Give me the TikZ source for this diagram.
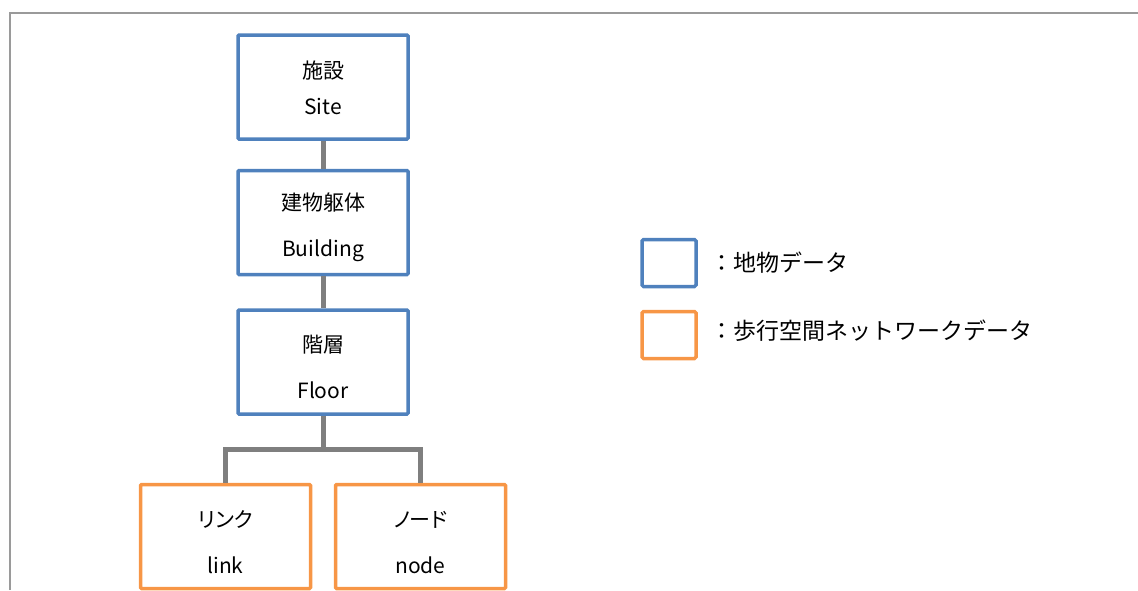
\documentclass[tikz,border=0pt]{standalone}
\usepackage{fontspec}
\setmainfont{Noto Sans CJK JP}
\newfontfamily\palfont[RawFeature=+palt]{Noto Sans CJK JP}
\usetikzlibrary{positioning}
\definecolor{geoblue}{HTML}{4F81BD}
\definecolor{netorange}{HTML}{F79646}
\definecolor{linkgray}{HTML}{7F7F7F}
\definecolor{framegray}{HTML}{9A9A9A}
\newcommand{\topstrut}[1][28pt]{\rule{0pt}{#1}}

\begin{document}
\begin{tikzpicture}[
  x=1pt, y=-1pt,
  every node/.style={font={\palfont\fontsize{21}{46}\selectfont}},
  featbox/.style={rectangle, draw=geoblue, line width=3.5pt, rounded corners=1pt, minimum width=170pt, minimum height=104pt, align=center, inner sep=0pt},
  netbox/.style={featbox, draw=netorange},
  keybox/.style={rectangle, draw, line width=3.5pt, rounded corners=1.5pt, minimum width=54pt, minimum height=47pt},
  keytext/.style={anchor=west, inner sep=0pt, font={\rmfamily\fontsize{23}{28}\selectfont}},
  conn/.style={draw=linkgray, line width=5pt},
]
\useasboundingbox (0,0) rectangle (1138,590);
\draw[framegray, line width=2pt] (9.5,590) -- (9.5,12.5) -- (1138,12.5);

\node[featbox] (site) at (323,87) {\topstrut[20pt]施設\\[-10pt]Site};
\node[featbox, below=28pt of site] (bldg) {\topstrut{}建物躯体\\Building};
\node[featbox, below=32pt of bldg] (floor) {\topstrut{}階層\\Floor};
\node[netbox, anchor=north] (link) at ([xshift=-97.5pt, yshift=-67pt]floor.south) {\topstrut{}リンク\\link};
\node[netbox, anchor=north] (nde) at ([xshift=97.5pt, yshift=-67pt]floor.south) {\topstrut{}ノード\\node};

\draw[conn] (site) -- (bldg);
\draw[conn] (bldg) -- (floor);
\coordinate (fork) at ([yshift=-34pt]floor.south);
\draw[conn] (floor) -- (fork);
\draw[conn] (link.north) |- (fork) -| (nde.north);

% Legend
\node[keybox, draw=geoblue] (keygeo) at (669,263) {};
\node[keybox, draw=netorange] (keynet) at (669,335) {};
\node[keytext] (txtgeo) at ([xshift=13pt]keygeo.east) {：地物データ};
\node[keytext] (txtnet) at ([xshift=13pt, yshift=4pt]keynet.east) {：歩行空間ネットワークデータ};
\end{tikzpicture}
\end{document}
